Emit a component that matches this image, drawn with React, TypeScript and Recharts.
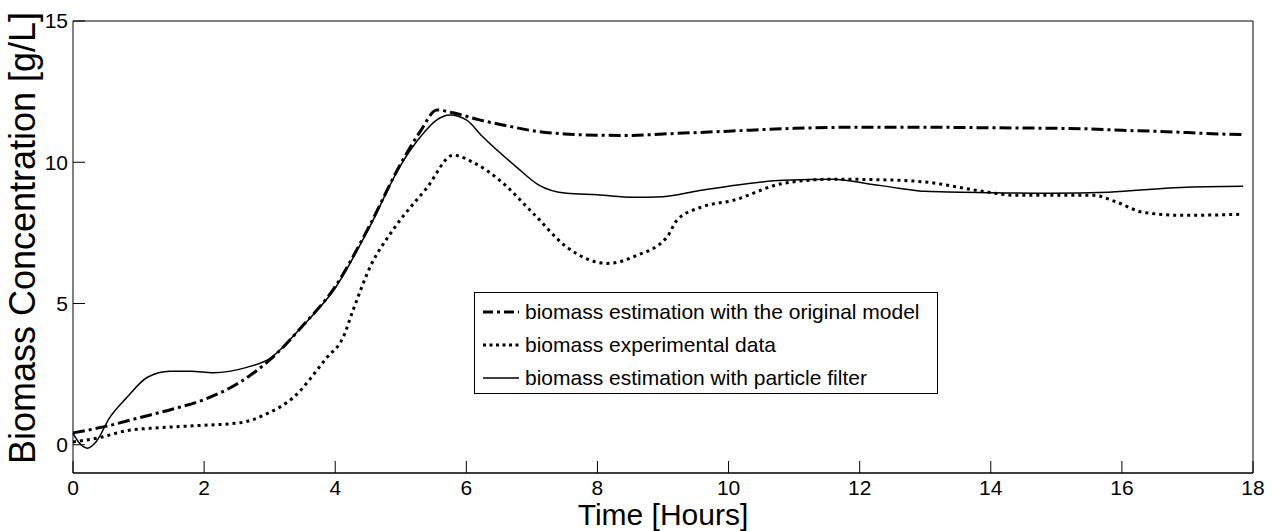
import { Line, LineChart, XAxis, YAxis } from 'recharts';

const FONT = '"Liberation Sans", Arial, sans-serif';

const timeTicks = [0, 2, 4, 6, 8, 10, 12, 14, 16, 18];
const biomassTicks = [0, 5, 10, 15];

// biomass estimation with the original model (dash-dot)
const modelTime = [0, 0.5, 1, 1.5, 2, 2.5, 3, 3.5, 4, 4.5, 5, 5.3, 5.55, 5.8, 6.2, 6.6, 7, 7.5, 8, 8.5, 9, 10, 11, 12, 13, 14, 15, 15.5, 16, 16.5, 17, 17.5, 17.85];
const modelBiomass = [0.42, 0.65, 0.95, 1.25, 1.6, 2.15, 3.0, 4.2, 5.6, 7.65, 9.95, 11.1, 11.85, 11.75, 11.5, 11.3, 11.12, 11.0, 10.96, 10.95, 11.0, 11.1, 11.2, 11.24, 11.24, 11.22, 11.2, 11.18, 11.13, 11.1, 11.05, 11.0, 10.98];

// biomass experimental data (dotted)
const expTime = [0, 0.4, 0.82, 1.3, 1.83, 2.55, 2.96, 3.36, 3.87, 4.12, 4.27, 4.53, 4.88, 5.4, 5.8, 6.1, 6.51, 7.02, 7.53, 8.15, 8.6, 9.06, 9.21, 9.57, 10.07, 10.83, 11.6, 12.62, 13.0, 13.8, 14.4, 15.56, 15.93, 16.32, 16.93, 17.85];
const expBiomass = [0.1, 0.25, 0.5, 0.6, 0.67, 0.78, 1.1, 1.67, 3.08, 3.8, 4.75, 6.28, 7.6, 9.1, 10.25, 10.0, 9.36, 8.19, 7.0, 6.42, 6.7, 7.35, 7.94, 8.4, 8.65, 9.25, 9.4, 9.36, 9.3, 9.0, 8.83, 8.83, 8.58, 8.23, 8.12, 8.16];

// biomass estimation with particle filter (solid)
const filterTime = [0, 0.1, 0.22, 0.35, 0.56, 0.82, 1.13, 1.48, 1.8, 2.14, 2.65, 3.0, 3.5, 4, 4.5, 5, 5.3, 5.55, 5.75, 6.0, 6.25, 6.77, 7.1, 7.53, 8, 8.55, 9, 9.56, 10, 10.83, 11.6, 12.1, 12.6, 13, 14, 14.9, 15.8, 16.9, 17.85];
const filterBiomass = [0.4, 0.05, -0.12, 0.1, 0.96, 1.67, 2.38, 2.6, 2.6, 2.55, 2.74, 3.05, 4.2, 5.55, 7.6, 9.9, 10.9, 11.5, 11.67, 11.5, 10.9, 9.82, 9.2, 8.9, 8.85, 8.76, 8.78, 9.0, 9.15, 9.36, 9.4, 9.25, 9.08, 8.97, 8.92, 8.9, 8.94, 9.11, 9.15];

const toPoints = (xs: number[], ys: number[]) => xs.map((t, i) => ({ t, v: ys[i] }));

const modelData = toPoints(modelTime, modelBiomass);
const expData = toPoints(expTime, expBiomass);
const filterData = toPoints(filterTime, filterBiomass);

const legendItems = [
  { label: 'biomass estimation with the original model', dash: '10 4 3 4', width: 3 },
  { label: 'biomass experimental data', dash: '3 3.5', width: 3 },
  { label: 'biomass estimation with particle filter', dash: undefined, width: 1.5 },
];

const tickStyle = { fill: '#000', fontSize: 21, fontFamily: FONT };
const axisStroke = { stroke: '#000', strokeWidth: 1 };

export default function App() {
  return (
    <div style={{ position: 'absolute', left: 0, top: 0, width: 1277, height: 531, background: '#fff' }}>
      <LineChart width={1277} height={531} margin={{ top: 0, right: 0, bottom: 0, left: 0 }}>
        <XAxis
          xAxisId="top"
          orientation="top"
          type="number"
          dataKey="t"
          domain={[0, 18]}
          ticks={timeTicks}
          height={21}
          tick={false}
          tickSize={-12}
          axisLine={axisStroke}
          tickLine={axisStroke}
        />
        <XAxis
          type="number"
          dataKey="t"
          domain={[0, 18]}
          ticks={timeTicks}
          height={58}
          tickSize={-12}
          tickMargin={19}
          tick={tickStyle}
          axisLine={{ stroke: '#000', strokeWidth: 1.5 }}
          tickLine={axisStroke}
          label={{
            content: ({ viewBox }: any) => (
              <text
                x={viewBox.x + viewBox.width / 2}
                y={525}
                textAnchor="middle"
                fontSize={30}
                fontFamily={FONT}
                fill="#000"
              >
                Time [Hours]
              </text>
            ),
          }}
        />
        <YAxis
          type="number"
          domain={[-1, 15]}
          ticks={biomassTicks}
          width={73}
          tickSize={-12}
          tickMargin={17}
          tick={tickStyle}
          axisLine={axisStroke}
          tickLine={axisStroke}
          label={{
            content: () => (
              <text
                x={35}
                y={238}
                transform="rotate(-90 35 238)"
                textAnchor="middle"
                fontSize={36}
                fontFamily={FONT}
                fill="#000"
              >
                Biomass Concentration [g/L]
              </text>
            ),
          }}
        />
        <YAxis
          yAxisId="right"
          orientation="right"
          type="number"
          domain={[-1, 15]}
          ticks={biomassTicks}
          width={24}
          tick={false}
          tickSize={-12}
          axisLine={axisStroke}
          tickLine={axisStroke}
        />
        <Line
          data={modelData}
          dataKey="v"
          type="monotone"
          stroke="#000"
          strokeWidth={3}
          strokeDasharray="12 4 3 4"
          dot={false}
          isAnimationActive={false}
        />
        <Line
          data={expData}
          dataKey="v"
          type="monotone"
          stroke="#000"
          strokeWidth={3}
          strokeDasharray="3 4"
          dot={false}
          isAnimationActive={false}
        />
        <Line
          data={filterData}
          dataKey="v"
          type="monotone"
          stroke="#000"
          strokeWidth={1.5}
          dot={false}
          isAnimationActive={false}
        />
      </LineChart>
      <div
        style={{
          position: 'absolute',
          left: 474,
          top: 292,
          width: 464,
          height: 102,
          border: '1px solid #000',
          background: '#fff',
          paddingTop: 2,
          boxSizing: 'border-box',
          fontFamily: FONT,
          fontSize: 21,
          color: '#000',
        }}
      >
        {legendItems.map((item) => (
          <div key={item.label} style={{ display: 'flex', alignItems: 'center', height: 33, whiteSpace: 'nowrap' }}>
            <svg width={50} height={33} style={{ flex: 'none' }}>
              <line x1={8} x2={44} y1={17} y2={17} stroke="#000" strokeWidth={item.width} strokeDasharray={item.dash} />
            </svg>
            <span style={{ lineHeight: '33px' }}>{item.label}</span>
          </div>
        ))}
      </div>
    </div>
  );
}
